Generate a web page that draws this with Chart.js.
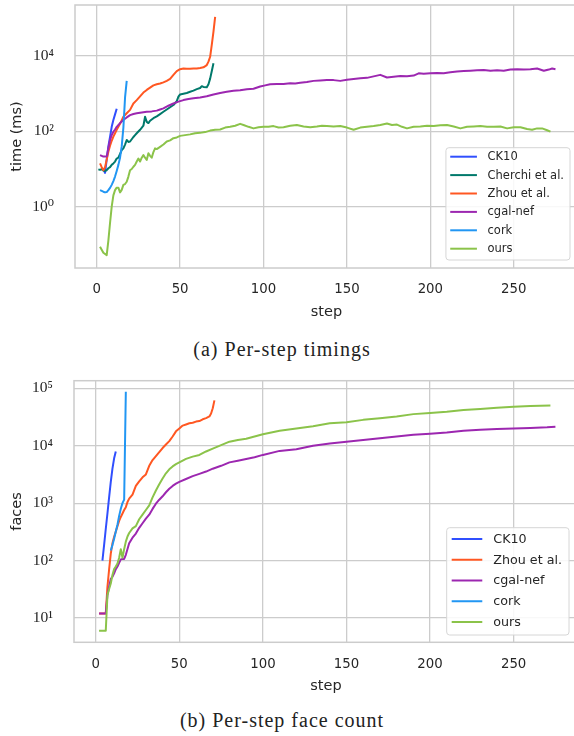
<!DOCTYPE html>
<html><head><meta charset="utf-8">
<script src="https://cdn.jsdelivr.net/npm/chart.js@4.4.1/dist/chart.umd.min.js"></script>
<style>
html,body{margin:0;padding:0;background:#fff;width:574px;height:736px;overflow:hidden;position:relative}
.wrap{position:absolute;left:0;width:580px}
#w1{top:0;height:325px}
#w2{top:372px;height:328px}
.cap{position:absolute;left:0;width:564px;text-align:center;font-family:"Liberation Serif","DejaVu Serif",serif;font-size:20px;letter-spacing:1px;color:#222;line-height:24px;white-space:nowrap}
</style></head><body>
<div class="wrap" id="w1"><canvas id="c1"></canvas></div>
<div class="cap" style="top:337px">(a) Per-step timings</div>
<div class="wrap" id="w2"><canvas id="c2"></canvas></div>
<div class="cap" style="top:708px">(b) Per-step face count</div>
<script>
// ---------- tick labels ----------
const stepTicks = [0, 50, 100, 150, 200, 250];
const timeTicks = [1, 100, 10000];
const faceTicks = [10, 100, 1000, 10000, 100000];

// ---------- (a) per-step timings, ms ----------
const ck10TimeSteps = [4,5,6,7,8,9,10,11,12];
const ck10TimeMs = [10,7.9,17.8,39.8,70.8,132,200,282,398];

const cherchiTimeSteps = [1,2,3,4,5,6,7,8,9,10,11,12,13,14,15,16,17,18,19,20,22,23,24,26,28,29,30,31,32,34,36,38,40,42,44,46,48,49,50,52,54,56,58,60,62,63,64,66,67,68,69,70];
const cherchiTimeMs = [9.8,9.5,10,9.1,8.9,9.3,10.5,11.2,12.9,14.1,15.8,19,20,25.1,31.6,35.5,44.7,58.9,52.5,53.7,70.8,79.4,89,110,141,245,178,166,191,224,251,288,331,380,437,501,631,832,955,1000,1047,1122,1202,1318,1413,1585,1514,1479,1778,2512,3981,6457];

const zhouTimeSteps = [2,3,4,5,6,7,8,9,10,11,12,13,14,16,18,20,22,24,26,28,30,32,34,36,38,40,42,44,46,48,50,52,54,56,58,60,62,64,66,67,68,69,70,71];
const zhouTimeMs = [14.1,11.2,9.3,11.2,17.8,28.8,41.7,56.2,72.4,89,110,132,158,245,302,372,550,676,851,1072,1259,1445,1660,1778,1862,1995,2188,2455,3162,3981,4467,4677,4571,4571,4677,4677,4786,5012,5754,7079,9550,19953,44668,109648];

const cgalTimeSteps = [2,4,6,7,8,9,10,11,12,14,16,18,20,22,24,27,30,33,36,38,40,43,46,49,52,55,58,62,66,70,74,78,82,86,90,94,98,101,104,108,112,116,119,122,126,130,134,138,142,146,150,154,158,162,166,170,174,178,182,186,190,193,196,200,204,208,212,216,220,224,228,232,236,240,244,248,252,256,260,264,268,271,273,275];
const cgalTimeMs = [23.4,21.4,21.4,35.5,58.9,79.4,97.7,112,132,166,200,234,269,288,302,316,331,339,355,380,407,479,550,617,676,724,759,794,851,955,1047,1122,1202,1230,1318,1349,1549,1660,1778,1820,1820,1905,1862,1950,2042,2188,2239,2291,2291,2188,2344,2455,2570,2630,2884,3162,2692,2818,2951,2884,3020,3467,3388,3467,3548,3467,3715,3890,3981,4074,4169,4266,4074,4169,4074,4365,4467,4365,4467,4677,4074,4365,4677,4467];

const corkTimeSteps = [2,3,4,5,6,7,8,9,10,11,12,13,14,15,16,17,18];
const corkTimeMs = [2.75,2.63,2.5,2.4,2.45,2.75,3.16,3.8,4.8,6.3,8.9,12.9,20,39.8,126,794,2188];

const oursTimeSteps = [2,4,6,7,8,9,10,11,12,13,14,15,16,17,18,19,20,21,22,23,24,25,26,27,28,29,30,31,32,33,34,35,36,38,40,42,44,46,48,50,53,56,59,62,65,68,71,74,77,80,83,86,88,91,94,97,100,103,106,109,112,116,120,124,128,132,135,138,142,146,150,154,158,162,166,170,174,177,180,183,186,190,194,198,202,206,210,214,218,222,226,230,234,238,242,246,250,254,258,261,264,267,270,272];
const oursTimeMs = [0.087,0.06,0.052,0.126,0.37,1.0,2.0,2.75,3.2,3.2,2.4,2.8,3.8,4.0,4.6,6.3,9.3,10,11.5,12.9,15.8,19,15.8,20,23.4,20,17.4,26.3,22.4,20,28.2,35.5,33.9,38.9,44.7,53.7,57.5,66,69,75.9,79.4,83.2,89,91.2,95.5,104.7,110,112,126,132,141,158,148,132,120,129,132,132,138,126,129,141,148,135,129,135,141,138,135,138,126,110,126,132,138,148,162,148,151,132,120,132,135,141,138,145,148,135,120,132,135,138,132,132,135,120,129,129,115,110,120,120,107,98];

// ---------- (b) per-step face count ----------
const ck10FaceSteps = [4,5,6,7,8,9,10,11,12];
const ck10Faces = [100,186,355,661,1259,2344,3981,6026,7943];

const zhouFaceSteps = [2,3,4,5,6,7,8,9,10,11,12,13,14,15,16,17,18,19,20,22,24,26,28,30,32,34,36,38,40,42,44,46,48,50,52,54,56,58,60,62,64,66,68,69,70,71];
const zhouFaces = [12,12,12,12,12,35,70,132,200,260,320,398,490,575,661,759,851,1047,1202,1413,1995,2399,2818,3162,4467,5623,6607,7762,9120,10471,12023,14454,17783,19953,22387,23442,24547,25119,26303,26915,28840,30200,32359,36308,45000,61660];

const cgalFaceSteps = [2,3,4,5,6,7,8,9,10,11,12,13,14,15,16,17,18,20,22,24,26,28,30,32,34,36,38,40,42,44,46,48,50,54,58,62,66,70,75,80,85,90,95,100,110,120,130,140,150,160,170,180,190,200,210,220,230,240,250,260,270,275];
const cgalFaces = [12,12,12,12,12,25,35,48,52,60,71,79,91,105,107,107,126,200,251,295,372,447,537,631,794,977,1148,1318,1549,1778,1995,2188,2344,2630,2951,3236,3548,3981,4467,5129,5495,5888,6310,6918,8128,8710,10000,10965,11749,12589,13490,14454,15488,16218,16982,18197,19055,19498,19953,20417,20893,21380];

const corkFaceSteps = [9,10,11,12,13,14,15,16,17,18];
const corkFaces = [150,186,240,320,420,600,800,1000,1150,87000];

const oursFaceSteps = [2,3,4,5,6,7,8,9,10,11,12,13,14,15,16,17,18,19,20,22,24,26,28,30,32,34,36,38,40,42,44,46,48,50,54,58,62,66,70,75,80,85,90,95,100,110,120,130,140,150,160,170,180,190,200,210,220,230,240,250,260,272];
const oursFaces = [6,6,6,6,6,25,32,40,56,71,79,89,112,158,112,158,214,263,302,363,398,525,631,759,912,1259,1660,2138,2692,3311,3890,4365,4786,5129,5888,6457,6918,7943,8913,10233,11749,12589,13183,14454,15849,18197,19953,21878,24547,25704,28184,30200,32359,35481,37154,38905,41687,43652,45709,47863,48978,50119];

// ---------- styling ----------
const COL = {ck10:'#304FFE', cherchi:'#00796B', zhou:'#FF5722', cgal:'#9C27B0', cork:'#2196F3', ours:'#8BC34A'};
const TXT = '#262626';
const SANS = '"DejaVu Sans", sans-serif';
const SERIF = '"Liberation Serif", "DejaVu Serif", serif';

const SUP = {'-':'\u207B','0':'\u2070','1':'\u00B9','2':'\u00B2','3':'\u00B3','4':'\u2074','5':'\u2075','6':'\u2076','7':'\u2077','8':'\u2078','9':'\u2079'};
function pow10Label(v){
  const e = Math.round(Math.log10(v));
  return '10' + String(e).split('').map(c => SUP[c]).join('');
}

function ds(label, steps, vals, color, order){
  return {label, data: steps.map((s,i)=>({x:s, y:vals[i]})), borderColor:color, backgroundColor:color,
    borderWidth:2, pointRadius:0, pointHoverRadius:0, fill:false, tension:0, order,
    borderJoinStyle:'round', borderCapStyle:'butt'};
}

const framePlugin = {
  id:'frame',
  beforeDatasetsDraw(chart){
    const a = chart.chartArea, ctx = chart.ctx;
    ctx.save();
    ctx.strokeStyle = '#cccccc'; ctx.lineWidth = 1.5;
    ctx.strokeRect(a.left, a.top, a.right-a.left, a.bottom-a.top);
    ctx.restore();
  }
};

const boxLegendPlugin = {
  id:'boxLegend',
  afterDatasetsDraw(chart, args, o){
    if (!o || !o.labels) return;
    const a = chart.chartArea, ctx = chart.ctx;
    ctx.save();
    ctx.font = o.fontSize + 'px ' + SANS;
    const tw = Math.max(...o.labels.map(l => ctx.measureText(l).width));
    const w = o.padL + o.handle + o.gap + tw + o.padR;
    const h = o.padT + o.rowH*(o.labels.length-1) + o.padB;
    const x = a.right - o.insetX - w, y = a.bottom - o.insetY - h;
    ctx.beginPath();
    ctx.roundRect(x, y, w, h, 3);
    ctx.fillStyle = 'rgba(255,255,255,0.85)'; ctx.fill();
    ctx.strokeStyle = '#d6d6d6'; ctx.lineWidth = 1; ctx.stroke();
    o.labels.forEach((l,i) => {
      const cy = y + o.padT + i*o.rowH;
      ctx.strokeStyle = o.colors[i]; ctx.lineWidth = 2;
      ctx.beginPath(); ctx.moveTo(x+o.padL, cy); ctx.lineTo(x+o.padL+o.handle, cy); ctx.stroke();
      ctx.fillStyle = TXT; ctx.textBaseline = 'middle'; ctx.textAlign = 'left';
      ctx.fillText(l, x+o.padL+o.handle+o.gap, cy+0.5);
    });
    ctx.restore();
  }
};

function makeChart(id, datasets, cfg){
  return new Chart(document.getElementById(id), {
    type:'line',
    data:{datasets},
    plugins:[framePlugin, boxLegendPlugin],
    options:{
      animation:false, responsive:true, maintainAspectRatio:false, devicePixelRatio:1,
      events:[],
      layout:{padding:{top:cfg.padTop, left:0, right:2, bottom:0}},
      plugins:{legend:{display:false}, tooltip:{enabled:false}, boxLegend:cfg.legend},
      scales:{
        x:{type:'linear', min:-13, max:288.5,
          afterBuildTicks:s => { s.ticks = stepTicks.map(v => ({value:v})); },
          afterFit:s => { s.height = cfg.xHeight; s.paddingLeft = 0; s.paddingRight = 0; },
          grid:{color:'#cccccc', lineWidth:1.3, drawTicks:false},
          border:{display:false},
          ticks:{padding:cfg.xTickPad, color:TXT, font:{family:SANS, size:13.3}, maxRotation:0},
          title:{display:true, text:'step', color:TXT, font:{family:SANS, size:14.5}, padding:{top:0, bottom:cfg.xTitlePad}}
        },
        y:{type:'logarithmic', min:cfg.yMin, max:cfg.yMax,
          afterBuildTicks:s => { s.ticks = cfg.yTicks.map(v => ({value:v})); },
          afterFit:s => { s.width = cfg.yWidth; s.paddingTop = 0; s.paddingBottom = 0; },
          grid:{color:'#cccccc', lineWidth:1.3, drawTicks:false},
          border:{display:false},
          ticks:{padding:21, color:TXT, font:{family:SERIF, size:15.5}, callback:v => pow10Label(v)},
          title:{display:true, text:cfg.yTitle, color:TXT, font:{family:SANS, size:14.5}, padding:{top:9, bottom:0}}
        }
      }
    }
  });
}

makeChart('c1', [
  ds('CK10', ck10TimeSteps, ck10TimeMs, COL.ck10, 6),
  ds('Cherchi et al.', cherchiTimeSteps, cherchiTimeMs, COL.cherchi, 5),
  ds('Zhou et al.', zhouTimeSteps, zhouTimeMs, COL.zhou, 4),
  ds('cgal-nef', cgalTimeSteps, cgalTimeMs, COL.cgal, 3),
  ds('cork', corkTimeSteps, corkTimeMs, COL.cork, 2),
  ds('ours', oursTimeSteps, oursTimeMs, COL.ours, 1)
], {
  padTop:5, xHeight:57, xTickPad:14, xTitlePad:4.3, yWidth:75,
  yMin:0.0236, yMax:226000, yTicks:timeTicks, yTitle:'time (ms)',
  legend:{labels:['CK10','Cherchi et al.','Zhou et al.','cgal-nef','cork','ours'],
    colors:[COL.ck10, COL.cherchi, COL.zhou, COL.cgal, COL.cork, COL.ours],
    fontSize:11.5, rowH:18.4, handle:26.7, gap:10.6, padL:4.3, padR:6, padT:9, padB:11.3, insetX:8, insetY:8}
});

makeChart('c2', [
  ds('CK10', ck10FaceSteps, ck10Faces, COL.ck10, 5),
  ds('Zhou et al.', zhouFaceSteps, zhouFaces, COL.zhou, 4),
  ds('cgal-nef', cgalFaceSteps, cgalFaces, COL.cgal, 3),
  ds('cork', corkFaceSteps, corkFaces, COL.cork, 2),
  ds('ours', oursFaceSteps, oursFaces, COL.ours, 1)
], {
  padTop:8.7, xHeight:57.7, xTickPad:14.7, xTitlePad:4.6, yWidth:74,
  yMin:3.78, yMax:135500, yTicks:faceTicks, yTitle:'faces',
  legend:{labels:['CK10','Zhou et al.','cgal-nef','cork','ours'],
    colors:[COL.ck10, COL.zhou, COL.cgal, COL.cork, COL.ours],
    fontSize:12.7, rowH:20.75, handle:30.6, gap:11, padL:5, padR:7, padT:11.3, padB:13, insetX:9, insetY:7.3}
});
</script>
</body></html>
